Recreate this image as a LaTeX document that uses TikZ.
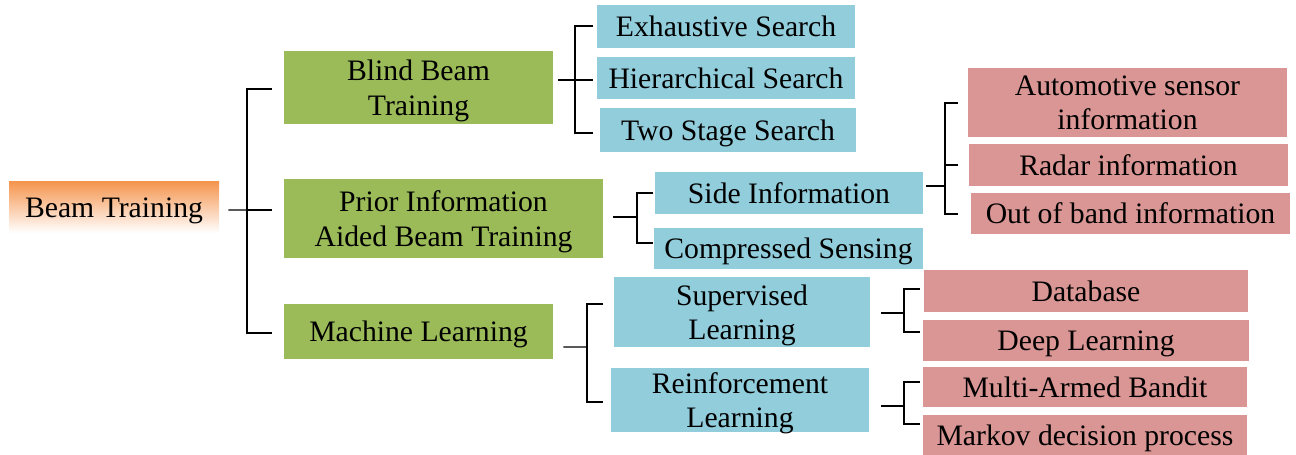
\documentclass[tikz,border=0pt]{standalone}
\usepackage{fontspec}
\setmainfont{Liberation Serif}
\usetikzlibrary{positioning, calc}

\definecolor{rootorange}{RGB}{245,150,80}
\definecolor{leafgreen}{RGB}{155,187,89}
\definecolor{leafblue}{RGB}{146,205,220}
\definecolor{leafred}{RGB}{217,150,148}

\tikzset{
    box/.style={inner sep=0pt, align=center, text depth=0pt, font=\fontsize{16.9}{19.6}\selectfont},
    size/.style 2 args={minimum width=#1*0.02cm, minimum height=#2*0.02cm},
    rootbox/.style={box, top color=rootorange, bottom color=white},
    greenbox/.style={box, fill=leafgreen},
    bluebox/.style={box, fill=leafblue},
    redbox/.style={box, fill=leafred},
    link/.style={line width=0.8pt},
}

\begin{document}
\begin{tikzpicture}[x=0.02cm, y=-0.02cm]
        \useasboundingbox (0,0) rectangle (1296,455);

        % the root
        \node[rootbox, size={210}{51}] (bt) at (114,207.5) {Beam Training};

        % first level
        \node[greenbox, size={269}{73}] (blind) at (418.5,87.5) {Blind Beam\\Training};
        \node[greenbox, size={319}{79}] (prior) at (443.5,218.5) {Prior Information\\Aided Beam Training};
        \node[greenbox, size={269}{55}] (ml)    at (418.5,331.5) {Machine Learning};

        % second level
        \node[bluebox, size={258}{43}] (exh)  at (726,26.5) {Exhaustive Search};
        \node[bluebox, size={258}{42}] (hier) at (726,78) {Hierarchical Search};
        \node[bluebox, size={256}{44}] (two)  at (728,130) {Two Stage Search};
        \node[bluebox, size={268}{42}] (side) at (789,193) {Side Information};
        \node[bluebox, size={269}{41}] (cs)   at (788.5,248.5) {Compressed Sensing};
        \node[bluebox, size={256}{70}] (sup)  at (742,312) {Supervised\\Learning};
        \node[bluebox, size={258}{64}] (rl)   at (740,400) {Reinforcement\\Learning};

        % third level
        \node[redbox, size={319}{69}] (auto)  at (1127.5,102.5) {Automotive sensor\\information};
        \node[redbox, size={319}{42}] (radar) at (1128.5,165) {Radar information};
        \node[redbox, size={319}{41}] (oob)   at (1130.5,213.5) {Out of band information};
        \node[redbox, size={324}{42}] (db)    at (1086,291) {Database};
        \node[redbox, size={326}{41}] (dl)    at (1086,340.5) {Deep Learning};
        \node[redbox, size={324}{40}] (mab)   at (1085,387) {Multi-Armed Bandit};
        \node[redbox, size={324}{40}] (mdp)   at (1085,435) {Markov decision process};

        % brackets
        \coordinate (j0) at (247,210);
        \draw[link] ($(bt.east)+(9,2.5)$) -- (j0);
        \draw[link] (272,89) -| (j0) |- (272,333);
        \draw[link] (j0) -- (272,210);

        \coordinate (j1) at (575,80);
        \draw[link] ($(blind.east)+(5,-7.5)$) -- (j1);
        \draw[link] (593,26) -| (j1) |- (593,133);
        \draw[link] (j1) -- (593,80);

        \coordinate (j2) at (637,217);
        \draw[link] ($(prior.east)+(10,-1.5)$) -- (j2);
        \draw[link] (653,193) -| (j2) |- (653,243);

        \coordinate (j3) at (945,186);
        \draw[link] ($(side.east)+(3,-7)$) -- (j3);
        \draw[link] (958,103) -| (j3) |- (958,214);
        \draw[link] (j3 |- radar) -- (958,165);

        \coordinate (j4) at (587,347);
        \draw[link] ($(ml.east)+(10,15.5)$) -- (j4);
        \draw[link] (603,304) -| (j4) |- (603,402);

        \coordinate (j5) at (904,313);
        \draw[link] ($(sup.east)+(11,1)$) -- (j5);
        \draw[link] (920,289) -| (j5) |- (920,332);

        \coordinate (j6) at (904,406);
        \draw[link] ($(rl.east)+(12,6)$) -- (j6);
        \draw[link] (920,382) -| (j6) |- (920,424);
    \end{tikzpicture}
\end{document}
